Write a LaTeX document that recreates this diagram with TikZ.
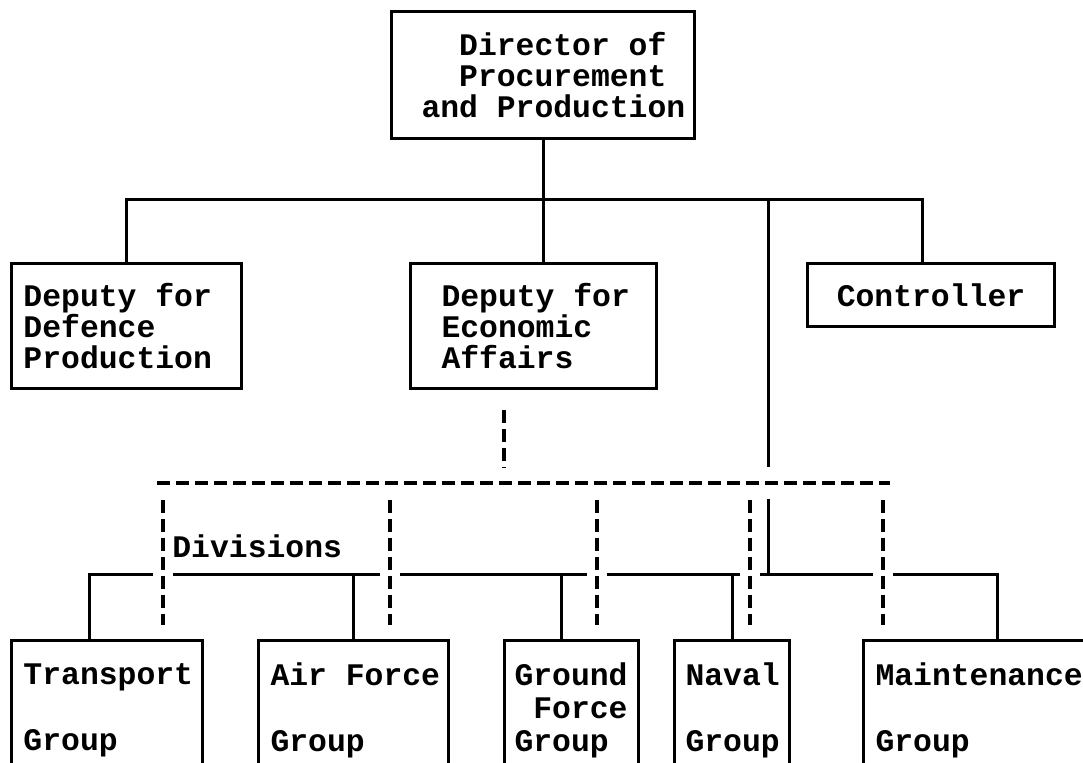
\documentclass[tikz,border=0pt]{standalone}
\usepackage{fontspec}
\setmainfont{Liberation Mono}
\usetikzlibrary{positioning,calc}
\hyphenpenalty=10000
% bold typewriter face, full-width spaces
\newcommand\chartfont[1]{\bfseries\fontsize{15.7}{#1}\selectfont}

\tikzset{
  every node/.style={execute at begin node={\spaceskip=9.42pt\xspaceskip=9.42pt\relax}},
  unit/.style={draw, line width=1.5pt, anchor=north west, inner ysep=0pt, align=left,
    font=\chartfont{15.5pt}},
  group/.style={unit, minimum height=70pt, font=\chartfont{16.5pt}},
  link/.style={line width=1.5pt},
  dashlink/.style={line width=1.8pt, dash pattern=on 6.5pt off 3pt},
  cutgap/.style={preaction={draw=white, solid, line width=#1}},
}

\begin{document}
\begin{tikzpicture}[x=0.5pt, y=-0.5pt]
    \useasboundingbox (0,0) rectangle (1083,763);
    % top of the chart
    \node[unit, minimum height=63.5pt, text width=121.5pt, inner xsep=15pt] (director) at (390,10) {\mbox{\phantom{xx}Director of}\\\mbox{\phantom{xx}Procurement}\\\mbox{and Production}};
    \node[unit, minimum height=62.5pt, text width=103pt, inner xsep=6pt] (defprod) at (10,262) {Deputy for\\Defence\\Production};
    \node[unit, minimum height=62.5pt, text width=92pt, inner xsep=15.5pt] (econ) at (409,262) {\mbox{Deputy for}\\Economic\\Affairs};
    \node[unit, minimum height=31.5pt, text width=95.5pt, inner xsep=14pt, align=center] (controller) at (806,262) {Controller};
    % groups
    \node[group, text width=83.5pt, inner xsep=6pt] (transport) at (10,639) {Transport\\[16.5pt]Group};
    \node[group, text width=83pt, inner xsep=6pt] (airforce) at (257,639) {\mbox{Air Force}\\[16.5pt]Group};
    \node[group, text width=57pt, inner xsep=5pt] (ground) at (503,639) {Ground\\\phantom{x}Force\\Group};
    \node[group, text width=46.5pt, inner xsep=5.5pt] (naval) at (673,639) {Naval\\[16.5pt]Group};
    \node[group, text width=122pt, inner xsep=6pt] (maint) at (862,639) {Maintenance\\[16.5pt]Group};

    \coordinate (hub) at (542,200);
    \coordinate (trunk) at (768,200);
    \coordinate (groupbar) at (768,575);
    \coordinate (divbar) at (504,483);
    \coordinate (divleft) at (157,483);
    \coordinate (divright) at (890,483);

    \draw[link] (director.south) -- (director.south |- econ.north);
    \draw[link] (defprod.north) |- (hub) -| ([xshift=-4.25pt]controller.north);
    \draw[link] (trunk) -- (groupbar);
    \draw[link] ([xshift=-9pt]transport.north) |- (groupbar) -| (maint.north);
    \draw[link] (airforce.north) -- (airforce.north |- groupbar);
    \draw[link] ([xshift=-5pt]ground.north) coordinate (groundtop) -- (groundtop |- groupbar);
    \draw[link] (naval.north) -- (naval.north |- groupbar);

    % divisions (dashed)
    \draw[dashlink, cutgap=16pt] (divleft) -- (divright);
    \draw[dashlink] ($(econ.south -| divbar)+(0,20)$) -- ($(divbar)+(0,-15)$);
    \foreach \x in {163,390,597,750,883}
        \draw[dashlink, cutgap=10pt] (\x,500) -- (\x,625);
    \node[font=\chartfont{15.5pt}, anchor=west, inner sep=0pt] (divisions) at (172,546) {Divisions};
\end{tikzpicture}
\end{document}
